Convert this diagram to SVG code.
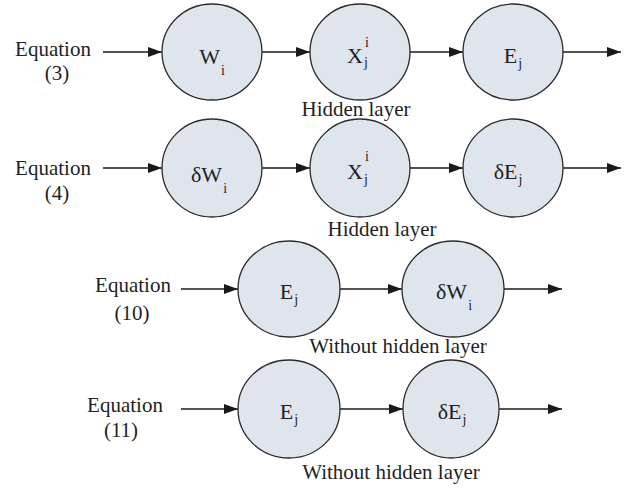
<svg xmlns="http://www.w3.org/2000/svg" width="625" height="490" viewBox="0 0 625 490" font-family="'Liberation Serif', 'DejaVu Serif', serif">
<defs>
<marker id="ah" markerUnits="userSpaceOnUse" markerWidth="15" markerHeight="10" refX="14" refY="5" orient="auto">
<path d="M0,0 L14,5 L0,10 z" fill="#1a1a1a"/>
</marker>
<style>
.n{fill:#dfe5ec;stroke:#2a2a2a;stroke-width:1.3}
.c{stroke:#1a1a1a;stroke-width:1.3;fill:none;marker-end:url(#ah)}
text{font-family:'Liberation Serif', serif;fill:#1f1f1f}
.t{font-size:21px}
.m{font-size:22px}
.s{font-size:14px}
</style>
</defs>
<rect width="625" height="490" fill="#fff"/>

<g id="labels">
<text class="t" x="53" y="56" text-anchor="middle">Equation</text>
<text class="t" x="57" y="80" text-anchor="middle">(3)</text>
<text class="t" x="53" y="175" text-anchor="middle">Equation</text>
<text class="t" x="57" y="200" text-anchor="middle">(4)</text>
<text class="t" x="133" y="292" text-anchor="middle">Equation</text>
<text class="t" x="132" y="320" text-anchor="middle">(10)</text>
<text class="t" x="125" y="412" text-anchor="middle">Equation</text>
<text class="t" x="121" y="437" text-anchor="middle">(11)</text>
<text class="t" x="356" y="116" text-anchor="middle">Hidden layer</text>
<text class="t" x="382" y="236" text-anchor="middle">Hidden layer</text>
<text class="t" x="398" y="353" text-anchor="middle">Without hidden layer</text>
<text class="t" x="391" y="479" text-anchor="middle">Without hidden layer</text>
</g>

<g id="connectors">
<line class="c" x1="103" y1="52" x2="162" y2="52"/>
<line class="c" x1="262" y1="52" x2="310" y2="52"/>
<line class="c" x1="400" y1="52" x2="463" y2="52"/>
<line class="c" x1="563" y1="52" x2="621" y2="52"/>
<line class="c" x1="103" y1="168" x2="162" y2="168"/>
<line class="c" x1="262" y1="168" x2="310" y2="168"/>
<line class="c" x1="410" y1="168" x2="463" y2="168"/>
<line class="c" x1="563" y1="168" x2="621" y2="168"/>
<line class="c" x1="181" y1="289" x2="238" y2="289"/>
<line class="c" x1="340" y1="289" x2="402" y2="289"/>
<line class="c" x1="504" y1="289" x2="562" y2="289"/>
<line class="c" x1="181" y1="409" x2="238" y2="409"/>
<line class="c" x1="340" y1="409" x2="403" y2="409"/>
<line class="c" x1="499" y1="409" x2="562" y2="409"/>
</g>

<g id="n_Wi">
<ellipse class="n" cx="212" cy="52" rx="50" ry="48"/>
<text x="212" y="64" text-anchor="middle"><tspan class="m">W</tspan><tspan class="s" dx="1" dy="11">i</tspan></text>
</g>
<g id="n_X1">
<ellipse class="n" cx="360" cy="52" rx="50" ry="48"/>
<text class="m" x="363" y="63" text-anchor="end">X</text>
<text class="s" x="365" y="47">i</text>
<text class="s" x="364" y="67">j</text>
</g>
<g id="n_Ej1">
<ellipse class="n" cx="513" cy="52" rx="50" ry="48"/>
<text x="513" y="63" text-anchor="middle"><tspan class="m">E</tspan><tspan class="s" dx="1" dy="5">j</tspan></text>
</g>

<g id="n_dWi">
<ellipse class="n" cx="212" cy="168" rx="50" ry="49"/>
<text x="209" y="182" text-anchor="middle"><tspan class="m">δW</tspan><tspan class="s" dx="1" dy="11">i</tspan></text>
</g>
<g id="n_X2">
<ellipse class="n" cx="360" cy="168" rx="50" ry="49"/>
<text class="m" x="363" y="179" text-anchor="end">X</text>
<text class="s" x="365" y="161">i</text>
<text class="s" x="364" y="184">j</text>
</g>
<g id="n_dEj1">
<ellipse class="n" cx="513" cy="168" rx="50" ry="49"/>
<text x="508" y="179" text-anchor="middle"><tspan class="m">δE</tspan><tspan class="s" dx="1" dy="5">j</tspan></text>
</g>

<g id="n_Ej2">
<ellipse class="n" cx="289" cy="289" rx="51" ry="48"/>
<text x="289" y="299" text-anchor="middle"><tspan class="m">E</tspan><tspan class="s" dx="1" dy="5">j</tspan></text>
</g>
<g id="n_dWi2">
<ellipse class="n" cx="453" cy="289" rx="51" ry="48"/>
<text x="454" y="299" text-anchor="middle"><tspan class="m">δW</tspan><tspan class="s" dx="1" dy="11">i</tspan></text>
</g>

<g id="n_Ej3">
<ellipse class="n" cx="289" cy="409" rx="51" ry="49"/>
<text x="289" y="419" text-anchor="middle"><tspan class="m">E</tspan><tspan class="s" dx="1" dy="5">j</tspan></text>
</g>
<g id="n_dEj2">
<ellipse class="n" cx="451" cy="409" rx="48" ry="49"/>
<text x="452" y="419" text-anchor="middle"><tspan class="m">δE</tspan><tspan class="s" dx="1" dy="5">j</tspan></text>
</g>
</svg>
